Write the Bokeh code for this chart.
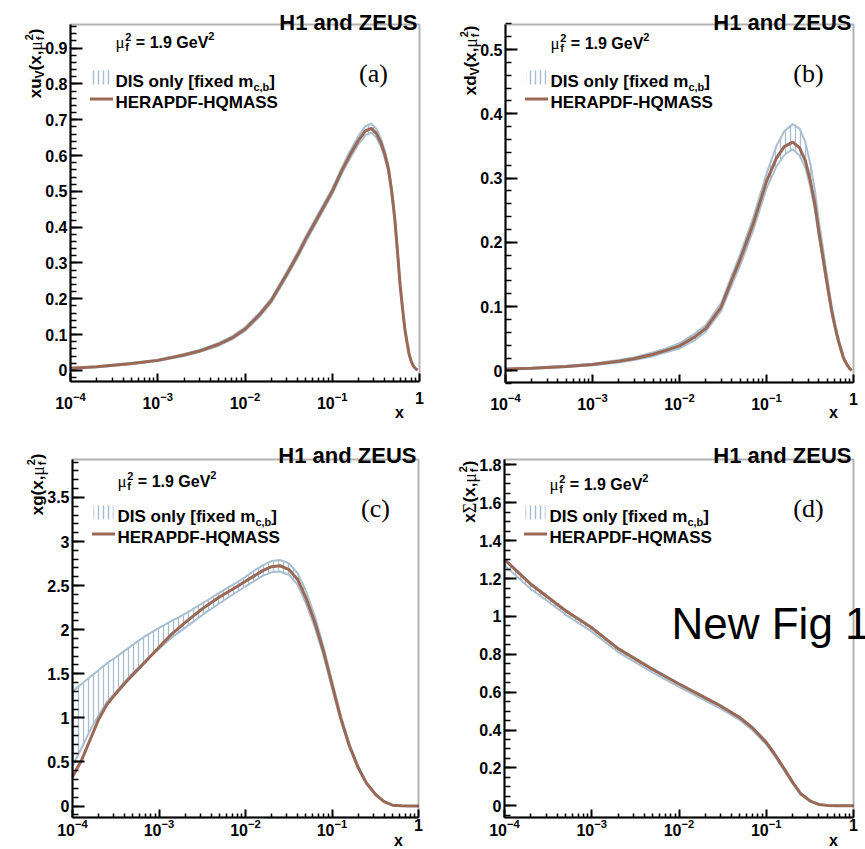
import math
import numpy as np
from bokeh.plotting import figure
from bokeh.models import FixedTicker, Label, Range1d, BoxAnnotation
from bokeh.layouts import column, row
from bokeh.embed import file_html
from bokeh.resources import INLINE

SANS = "Liberation Sans"
SERIF = "Liberation Serif"
BAND_COLOR = "#a9bfd0"
LINE_COLOR = "#9a6956"

# ---------------- data ----------------
X_VAL = [1e-4, 2e-4, 5e-4, 1e-3, 2e-3, 3e-3, 5e-3, 7e-3, 0.01, 0.015, 0.02, 0.03, 0.04, 0.05,
         0.07, 0.1, 0.13, 0.16, 0.2, 0.24, 0.28, 0.32, 0.36, 0.4, 0.44, 0.48, 0.52, 0.56, 0.6,
         0.64, 0.68, 0.72, 0.76, 0.8, 0.85, 0.9, 0.95]

UV_CENTRAL = [0.006, 0.010, 0.019, 0.028, 0.043, 0.054, 0.073, 0.090, 0.115, 0.158,
              0.195, 0.268, 0.322, 0.368, 0.432, 0.500, 0.560, 0.602, 0.643, 0.669,
              0.676, 0.662, 0.637, 0.603, 0.563, 0.500, 0.425, 0.330, 0.238, 0.172,
              0.115, 0.078, 0.045, 0.027, 0.012, 0.005, 0.001]
UV_UPPER = [0.007, 0.011, 0.021, 0.030, 0.046, 0.057, 0.077, 0.094, 0.120, 0.164,
            0.201, 0.275, 0.330, 0.376, 0.440, 0.508, 0.569, 0.613, 0.655, 0.682,
            0.689, 0.675, 0.649, 0.614, 0.573, 0.509, 0.433, 0.337, 0.244, 0.177,
            0.119, 0.081, 0.047, 0.029, 0.013, 0.006, 0.001]
UV_LOWER = [0.005, 0.009, 0.017, 0.026, 0.040, 0.051, 0.069, 0.086, 0.110, 0.152,
            0.189, 0.261, 0.314, 0.360, 0.424, 0.492, 0.551, 0.592, 0.632, 0.657,
            0.664, 0.650, 0.626, 0.593, 0.554, 0.492, 0.418, 0.324, 0.233, 0.168,
            0.112, 0.075, 0.043, 0.025, 0.011, 0.004, 0.000]

DV_CENTRAL = [0.003, 0.004, 0.007, 0.010, 0.015, 0.019, 0.026, 0.032, 0.039, 0.053,
              0.066, 0.099, 0.142, 0.174, 0.228, 0.295, 0.331, 0.349, 0.356, 0.347,
              0.327, 0.295, 0.259, 0.216, 0.181, 0.149, 0.120, 0.094, 0.075, 0.058,
              0.044, 0.033, 0.022, 0.015, 0.009, 0.004, 0.001]
DV_UPPER = [0.0035, 0.0048, 0.008, 0.011, 0.017, 0.021, 0.029, 0.035, 0.043, 0.058,
            0.071, 0.105, 0.149, 0.182, 0.238, 0.307, 0.350, 0.373, 0.384, 0.377,
            0.356, 0.321, 0.281, 0.234, 0.196, 0.161, 0.130, 0.102, 0.081, 0.063,
            0.048, 0.036, 0.024, 0.016, 0.010, 0.0045, 0.001]
DV_LOWER = [0.0025, 0.0033, 0.006, 0.009, 0.013, 0.017, 0.023, 0.029, 0.035, 0.048,
            0.061, 0.093, 0.134, 0.165, 0.218, 0.284, 0.318, 0.336, 0.345, 0.335,
            0.316, 0.285, 0.250, 0.209, 0.175, 0.144, 0.116, 0.090, 0.071, 0.055,
            0.041, 0.030, 0.020, 0.014, 0.008, 0.0035, 0.000]

X_G = [1e-4, 1.12e-4, 1.26e-4, 1.58e-4, 2e-4, 2.5e-4, 3.2e-4, 4e-4, 5e-4, 7e-4, 1e-3, 1.4e-3,
       2e-3, 3.2e-3, 5e-3, 8e-3, 0.01, 0.0126, 0.0158, 0.02, 0.025, 0.032, 0.04, 0.05, 0.063,
       0.079, 0.1, 0.126, 0.158, 0.2, 0.25, 0.32, 0.4, 0.5, 0.63, 0.8, 1.0]
G_CENTRAL = [0.33, 0.42, 0.51, 0.74, 0.98, 1.15, 1.28, 1.39, 1.49, 1.64,
             1.80, 1.95, 2.08, 2.24, 2.37, 2.49, 2.55, 2.61, 2.67, 2.715,
             2.725, 2.68, 2.57, 2.36, 2.09, 1.77, 1.38, 1.00, 0.69, 0.44,
             0.26, 0.13, 0.05, 0.01, 0.002, 0.0, 0.0]
G_UPPER = [1.30, 1.34, 1.38, 1.46, 1.54, 1.62, 1.69, 1.76, 1.83, 1.93,
           2.02, 2.10, 2.18, 2.30, 2.42, 2.54, 2.60, 2.67, 2.73, 2.78,
           2.79, 2.75, 2.64, 2.44, 2.16, 1.82, 1.42, 1.03, 0.71, 0.455,
           0.27, 0.137, 0.054, 0.012, 0.003, 0.0, 0.0]
G_LOWER = [0.45, 0.55, 0.65, 0.85, 1.03, 1.18, 1.30, 1.41, 1.51, 1.65,
           1.78, 1.91, 2.02, 2.17, 2.30, 2.43, 2.49, 2.55, 2.61, 2.65,
           2.66, 2.62, 2.51, 2.30, 2.03, 1.72, 1.34, 0.97, 0.67, 0.425,
           0.25, 0.124, 0.046, 0.008, 0.001, 0.0, 0.0]

X_S = [1e-4, 2e-4, 5e-4, 1e-3, 2e-3, 5e-3, 0.01, 0.02, 0.03, 0.05, 0.07, 0.1, 0.126, 0.158,
       0.2, 0.25, 0.32, 0.4, 0.5, 0.63, 0.8, 1.0]
S_CENTRAL = [1.300, 1.170, 1.030, 0.940, 0.830, 0.720, 0.643, 0.570, 0.527, 0.465, 0.410,
             0.335, 0.270, 0.200, 0.125, 0.062, 0.025, 0.007, 0.002, 0.0005, 0.0, 0.0]
S_UPPER = [1.305, 1.175, 1.035, 0.944, 0.834, 0.724, 0.647, 0.574, 0.531, 0.469, 0.414,
           0.339, 0.274, 0.203, 0.128, 0.064, 0.026, 0.0075, 0.002, 0.0005, 0.0, 0.0]
S_LOWER = [1.270, 1.145, 1.010, 0.920, 0.812, 0.703, 0.628, 0.556, 0.513, 0.452, 0.398,
           0.324, 0.260, 0.192, 0.118, 0.058, 0.023, 0.006, 0.0015, 0.0003, 0.0, 0.0]

# ---------------- axes ----------------
X_TICKS = [1e-4, 1e-3, 1e-2, 1e-1, 1.0]
X_MINOR = [m * 10.0 ** e for e in range(-4, 0) for m in range(2, 10)]

Y_TICKS_A = [0, 0.1, 0.2, 0.3, 0.4, 0.5, 0.6, 0.7, 0.8, 0.9]
Y_LABELS_A = ["0", "0.1", "0.2", "0.3", "0.4", "0.5", "0.6", "0.7", "0.8", "0.9"]
Y_TICKS_B = [0, 0.1, 0.2, 0.3, 0.4, 0.5]
Y_LABELS_B = ["0", "0.1", "0.2", "0.3", "0.4", "0.5"]
Y_TICKS_C = [0, 0.5, 1, 1.5, 2, 2.5, 3, 3.5]
Y_LABELS_C = ["0", "0.5", "1", "1.5", "2", "2.5", "3", "3.5"]
Y_TICKS_D = [0, 0.2, 0.4, 0.6, 0.8, 1, 1.2, 1.4, 1.6, 1.8]
Y_LABELS_D = ["0", "0.2", "0.4", "0.6", "0.8", "1", "1.2", "1.4", "1.6", "1.8"]

SANS_W = {' ': 278, '(': 333, ')': 333, ',': 278, '.': 278, '-': 333, '=': 584, '[': 333,
          ']': 333, 'A': 722, 'D': 722, 'E': 667, 'F': 611, 'G': 778, 'H': 722, 'I': 278,
          'M': 833, 'P': 667, 'Q': 778, 'R': 722, 'S': 667, 'U': 722, 'V': 667, 'Z': 611,
          'a': 556, 'b': 611, 'c': 556, 'd': 611, 'e': 556, 'f': 333, 'g': 611, 'i': 278,
          'l': 278, 'm': 889, 'n': 611, 'o': 611, 'u': 611, 'x': 556, 'y': 556}
SERIF_W = {'μ': 576, 'Σ': 600}


def text_width(text, size, font):
    table = SERIF_W if font == SERIF else SANS_W
    return sum(table.get(c, 556) for c in text) * size / 1000.0


def label(p, x, y, xo, yo, text, size, font=SANS, style="bold", align="left",
          baseline="alphabetic", angle=0.0, color="black"):
    p.add_layout(Label(x=x, y=y, x_offset=xo, y_offset=yo, text=text, text_font=font,
                       text_font_size=f"{size}px", text_font_style=style, text_align=align,
                       text_baseline=baseline, angle=angle, text_color=color))


def group_len(groups):
    return sum(max(text_width(t, s, f) for (t, s, f, st, r) in g) for g in groups)


def rich(p, x, y, xo, yo, groups, vertical=False):
    pos = 0.0
    for g in groups:
        adv = 0.0
        for (t, s, f, st, r) in g:
            lead = len(t) - len(t.lstrip(" "))
            shift = text_width(" " * lead, s, f)
            tt = t.lstrip(" ")
            if vertical:
                label(p, x, y, xo - r, yo + pos + shift, tt, s, font=f, style=st,
                      angle=math.pi / 2)
            else:
                label(p, x, y, xo + pos + shift, yo + r, tt, s, font=f, style=st)
            adv = max(adv, text_width(t, s, f))
        pos += adv


MU_GROUPS = [[("μ", 17, SERIF, "normal", 0)],
             [("f", 11, SANS, "bold", -4), ("2", 11, SANS, "bold", 6)],
             [(" = 1.9 GeV", 16, SANS, "bold", 0)],
             [("2", 11, SANS, "bold", 7)]]
LEG1_GROUPS = [[("DIS only [fixed m", 17, SANS, "bold", 0)],
               [("c,b", 11, SANS, "bold", -5)],
               [("]", 17, SANS, "bold", 0)]]


def ylab(first, sub=None, sym_serif=None):
    g = [[(first, 17, SANS, "bold", 0)]]
    if sym_serif:
        g.append([(sym_serif, 18, SERIF, "normal", 0)])
    if sub:
        g.append([(sub, 12, SANS, "bold", -4)])
    g += [[("(x,", 17, SANS, "bold", 0)],
          [("μ", 18, SERIF, "normal", 0)],
          [("f", 11, SANS, "bold", -4), ("2", 11, SANS, "bold", 7)],
          [(")", 17, SANS, "bold", 0)]]
    return g


def panel(cfg):
    W, H = cfg["size"]
    L, R, T, B = cfg["box"]
    y0, y1 = cfg["yr"]
    # the plotting frame covers the whole figure; the panel box sits inside it
    dec = (R - L) / 4.0
    x_lo = 10 ** (-4 - L / dec)
    x_hi = 10 ** ((W - R) / dec)
    ppu = (B - T) / (y1 - y0)
    y_top = y1 + T / ppu
    y_bot = y0 - (H - B) / ppu
    p = figure(width=W, height=H, x_axis_type="log", x_range=Range1d(x_lo, x_hi),
               y_range=Range1d(y_bot, y_top), output_backend="svg", toolbar_location=None,
               min_border=0)
    p.grid.visible = False
    p.outline_line_color = None
    p.background_fill_color = "white"
    p.border_fill_color = "white"

    for ax in (p.xaxis, p.yaxis):
        ax.axis_line_width = 2
        ax.axis_line_color = "black"
        ax.major_tick_line_width = 2
        ax.minor_tick_line_width = 1.5
        ax.major_tick_out = 0
        ax.minor_tick_out = 0
        ax.major_label_text_font = SANS
        ax.major_label_text_font_style = "bold"
        ax.major_label_text_font_size = "16px"
        ax.major_label_text_color = "black"

    p.xaxis.fixed_location = y0
    p.xaxis.bounds = (1e-4, 1.0)
    p.xaxis.ticker = FixedTicker(ticks=X_TICKS, minor_ticks=X_MINOR)
    p.xaxis.major_label_overrides = {1.0: "1"}
    p.xaxis.major_tick_in = 8
    p.xaxis.minor_tick_in = 4
    p.xaxis.major_label_standoff = cfg["xstand"]

    p.yaxis.fixed_location = 1e-4
    p.yaxis.bounds = (y0, y1)
    p.yaxis.ticker = FixedTicker(ticks=cfg["yticks"], minor_ticks=cfg["yminor"])
    p.yaxis.major_label_overrides = dict(zip(cfg["yticks"], cfg["ylabels"]))
    p.yaxis.major_tick_in = 12
    p.yaxis.minor_tick_in = 6
    p.yaxis.major_label_standoff = 3

    p.add_layout(BoxAnnotation(left=1e-4, right=1.0, bottom=y0, top=y1, fill_color=None,
                               fill_alpha=0, line_color="black", line_width=2, level="overlay"))

    x = cfg["x"]
    p.varea(x=x, y1=cfg["lo"], y2=cfg["up"], fill_color=None, hatch_pattern="|",
            hatch_color=BAND_COLOR, hatch_scale=5, hatch_weight=1.3)
    p.line(x=x, y=cfg["up"], line_color=BAND_COLOR, line_width=2)
    p.line(x=x, y=cfg["lo"], line_color=BAND_COLOR, line_width=2)
    p.line(x=x, y=cfg["c"], line_color=LINE_COLOR, line_width=3)

    # legend keys (pixel position inside the panel box)
    def at(dx, dy):
        return 10 ** (-4 + dx / dec), y1 - dy / ppu

    kx, ky = at(31, 53)
    p.rect(x=[kx], y=[ky], width=20, height=14, width_units="screen", height_units="screen",
           fill_color=None, line_color=None, hatch_pattern="|", hatch_color=BAND_COLOR,
           hatch_scale=5, hatch_weight=1.5)
    kx2, ky2 = at(31, 74.5)
    p.scatter(x=[kx2], y=[ky2], marker="dash", size=23, line_color=LINE_COLOR, line_width=3)

    XL, XR = 1e-4, 1.0
    label(p, XR, y1, -2, cfg["tdy"], "H1 and ZEUS", 22, align="right")
    label(p, XR, y1, -cfg["tagx"], -49, cfg["tag"], 26, font=SERIF, style="normal",
          align="center")
    rich(p, XL, y1, 45, -cfg["mudy"], MU_GROUPS)
    rich(p, XL, y1, 45, -57, LEG1_GROUPS)
    label(p, XL, y1, 45, -78, "HERAPDF-HQMASS", 17)
    label(p, XR, y0, -20, -cfg["xdy"], "x", 16, align="center")
    groups = cfg["ylab"]
    total = group_len(groups)
    rich(p, XL, y1, -35, -cfg["ytop"] - total, groups, vertical=True)
    if cfg.get("extra"):
        label(p, XL, y1, 167, -164, "New Fig 1", 44, style="normal")
    return p


CFG_A = dict(size=(432, 420), box=(70, 419, 24, 381), yr=(-0.031, 0.966),
             yticks=Y_TICKS_A, ylabels=Y_LABELS_A,
             yminor=[round(v, 3) for v in np.arange(-0.02, 0.97, 0.02)],
             x=X_VAL, c=UV_CENTRAL, up=UV_UPPER, lo=UV_LOWER, tag="(a)", tagx=46,
             mudy=18, xstand=10, ylab=ylab("xu", "V"), ytop=4, tdy=2, xdy=31)
CFG_B = dict(size=(433, 420), box=(73, 421, 24, 382), yr=(-0.018, 0.539),
             yticks=Y_TICKS_B, ylabels=Y_LABELS_B,
             yminor=[round(v, 3) for v in np.arange(-0.02, 0.54, 0.02)],
             x=X_VAL, c=DV_CENTRAL, up=DV_UPPER, lo=DV_LOWER, tag="(b)", tagx=45,
             mudy=19, xstand=10, ylab=ylab("xd", "V"), ytop=1, tdy=2, xdy=30)
CFG_C = dict(size=(432, 429), box=(72, 418, 39, 397), yr=(-0.13, 3.93),
             yticks=Y_TICKS_C, ylabels=Y_LABELS_C,
             yminor=[round(v, 3) for v in np.arange(-0.1, 3.95, 0.1)],
             x=X_G, c=G_CENTRAL, up=G_UPPER, lo=G_LOWER, tag="(c)", tagx=43,
             mudy=22, xstand=1, ylab=ylab("xg"), ytop=-6, tdy=4, xdy=23)
CFG_D = dict(size=(433, 429), box=(72, 421, 39, 397), yr=(-0.062, 1.829),
             yticks=Y_TICKS_D, ylabels=Y_LABELS_D,
             yminor=[round(v, 3) for v in np.arange(-0.05, 1.83, 0.05)],
             x=X_S, c=S_CENTRAL, up=S_UPPER, lo=S_LOWER, tag="(d)", tagx=45,
             mudy=25, xstand=1, ylab=ylab("x", None, "Σ"), ytop=1, tdy=4, xdy=23,
             extra=True)

layout = column(row(panel(CFG_A), panel(CFG_B)), row(panel(CFG_C), panel(CFG_D)))
open("out.html", "w").write(file_html(layout, INLINE))
